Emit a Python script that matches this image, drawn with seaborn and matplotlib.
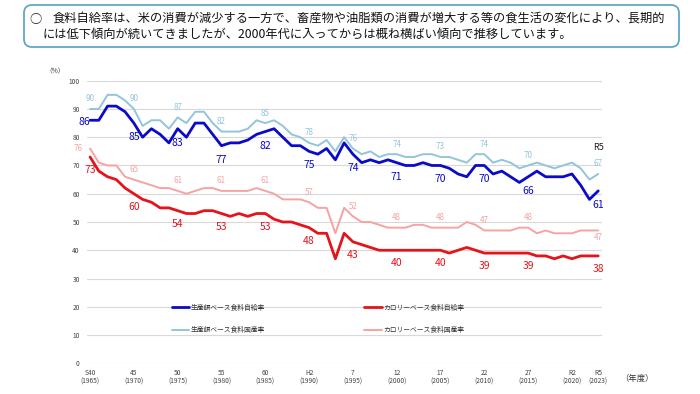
import matplotlib
matplotlib.use('Agg')
import matplotlib.pyplot as plt
import seaborn as sns
import pandas as pd
from matplotlib.patches import FancyBboxPatch

years = list(range(1965, 2024))

# 生産額ベース食料自給率
prod_self = [86, 86, 91, 91, 89, 85, 80, 83, 81, 78,
             83, 80, 85, 85, 81, 77, 78, 78, 79, 81,
             82, 83, 80, 77, 77, 75, 74, 76, 72, 78,
             74, 71, 72, 71, 72, 71, 70, 70, 71, 70,
             70, 69, 67, 66, 70, 70, 67, 68, 66, 64,
             66, 68, 66, 66, 66, 67, 63, 58, 61]
# 生産額ベース食料国産率
prod_dom = [90, 90, 95, 95, 93, 90, 84, 86, 86, 83,
            87, 85, 89, 89, 85, 82, 82, 82, 83, 86,
            85, 86, 84, 81, 80, 78, 77, 79, 75, 80,
            76, 74, 75, 73, 74, 74, 73, 73, 74, 74,
            73, 73, 72, 71, 74, 74, 71, 72, 71, 69,
            70, 71, 70, 69, 70, 71, 69, 65, 67]
# カロリーベース食料自給率
cal_self = [73, 68, 66, 65, 62, 60, 58, 57, 55, 55,
            54, 53, 53, 54, 54, 53, 52, 53, 52, 53,
            53, 51, 50, 50, 49, 48, 46, 46, 37, 46,
            43, 42, 41, 40, 40, 40, 40, 40, 40, 40,
            40, 39, 40, 41, 40, 39, 39, 39, 39, 39,
            39, 38, 38, 37, 38, 37, 38, 38, 38]
# カロリーベース食料国産率
cal_dom = [76, 71, 70, 70, 66, 65, 64, 63, 62, 62,
           61, 60, 61, 62, 62, 61, 61, 61, 61, 62,
           61, 60, 58, 58, 58, 57, 55, 55, 46, 55,
           52, 50, 50, 49, 48, 48, 48, 49, 49, 48,
           48, 48, 48, 50, 49, 47, 47, 47, 47, 48,
           48, 46, 47, 46, 46, 46, 47, 47, 47]

label_years = [1965, 1970, 1975, 1980, 1985, 1990, 1995, 2000, 2005, 2010, 2015, 2023]
tick_years = [1965, 1970, 1975, 1980, 1985, 1990, 1995, 2000, 2005, 2010, 2015, 2020, 2023]
tick_labels = ['S40\n(1965)', '45\n(1970)', '50\n(1975)', '55\n(1980)', '60\n(1985)',
               'H2\n(1990)', '7\n(1995)', '12\n(2000)', '17\n(2005)', '22\n(2010)',
               '27\n(2015)', 'R2\n(2020)', 'R5\n(2023)']

names = ['生産額ベース食料自給率', '生産額ベース食料国産率',
         'カロリーベース食料自給率', 'カロリーベース食料国産率']
colors = ['#0A0AC8', '#92C5DC', '#E3141C', '#F5A3A3']
widths = [2.0, 1.4, 2.0, 1.4]

df = pd.DataFrame({'year': years, names[0]: prod_self, names[1]: prod_dom,
                   names[2]: cal_self, names[3]: cal_dom})

sns.set_style('white')
plt.rcParams['font.family'] = ['Noto Sans CJK JP', 'DejaVu Sans']

fig = plt.figure(figsize=(7, 3.94), dpi=100)
ax = fig.add_axes([0.1239, 0.0779, 0.7357, 0.7173])

# light lines first so the bold ones sit on top
for i in [1, 3, 0, 2]:
    sns.lineplot(data=df, x='year', y=names[i], ax=ax, color=colors[i],
                 linewidth=widths[i], label=names[i], legend=False)

# value labels
big = {0: (0, -14), 2: (0, -13)}
small = {1: (0, 10), 3: (0, 10)}
for i, col in enumerate(names):
    for yr in label_years:
        v = df.loc[df['year'] == yr, col].iloc[0]
        if i in big:
            dx, dy = big[i]
            fs = 7.5
        else:
            dx, dy = small[i]
            fs = 5.8
        if i == 0 and yr == 1965:
            dx, dy = -6, -2
        if i == 3 and yr == 1965:
            dx, dy = -12, 0
        if i == 3 and yr == 2023:
            dx, dy = 0, -7
        ax.annotate(str(v), (yr, v), xytext=(dx, dy), textcoords='offset pixels',
                    ha='center', va='center', fontsize=fs, color=colors[i])

ax.text(2023, 76.5, 'R5', ha='center', va='center', fontsize=6.5, color='#222222')

ax.set_xlim(1964.62, 2023.4)
ax.set_ylim(0, 100)
ax.set_yticks(range(0, 101, 10))
ax.set_xticks(tick_years)
ax.set_xticklabels(tick_labels)
ax.tick_params(axis='both', length=0, labelsize=4.8, colors='#444444')
ax.tick_params(axis='y', pad=5)
ax.tick_params(axis='x', pad=4)
ax.grid(axis='y', color='#D9D9D9', linewidth=0.8)
ax.set_axisbelow(True)
for s in ax.spines.values():
    s.set_visible(False)
ax.set_xlabel('')
ax.set_ylabel('')

handles, labels = ax.get_legend_handles_labels()
order = [labels.index(n) for n in names]
ax.legend([handles[k] for k in order], [labels[k] for k in order], ncol=2,
          loc='upper left', bbox_to_anchor=(171.7 / 700, 1 - 303.5 / 394),
          bbox_transform=fig.transFigure, frameon=False, fontsize=4.9,
          handlelength=2.57, handletextpad=0.2, columnspacing=14.6,
          labelspacing=2.2, borderpad=0, borderaxespad=0, labelcolor='#333333')

fig.text(55 / 700, 1 - 71 / 394, '（%）', ha='center', va='center', fontsize=4.8, color='#333333')
fig.text(637 / 700, 1 - 378 / 394, '（年度）', ha='center', va='center', fontsize=6, color='#333333')

# header box
box = FancyBboxPatch((0.24, 3.47), 6.55, 0.42, boxstyle='round,pad=0,rounding_size=0.08',
                     transform=fig.dpi_scale_trans, facecolor='white',
                     edgecolor='#5FA9C3', linewidth=1.3)
fig.add_artist(box)
fig.text(36 / 700, 1 - 19 / 394, '○', ha='center', va='center', fontsize=8.8, color='#111111')
fig.text(53 / 700, 1 - 19 / 394,
         '食料自給率は、米の消費が減少する一方で、畜産物や油脂類の消費が増大する等の食生活の変化により、長期的',
         ha='left', va='center', fontsize=8.8, color='#111111')
fig.text(43 / 700, 1 - 34 / 394,
         'には低下傾向が続いてきましたが、2000年代に入ってからは概ね横ばい傾向で推移しています。',
         ha='left', va='center', fontsize=8.8, color='#111111')

fig.savefig('out.png', dpi=100)
